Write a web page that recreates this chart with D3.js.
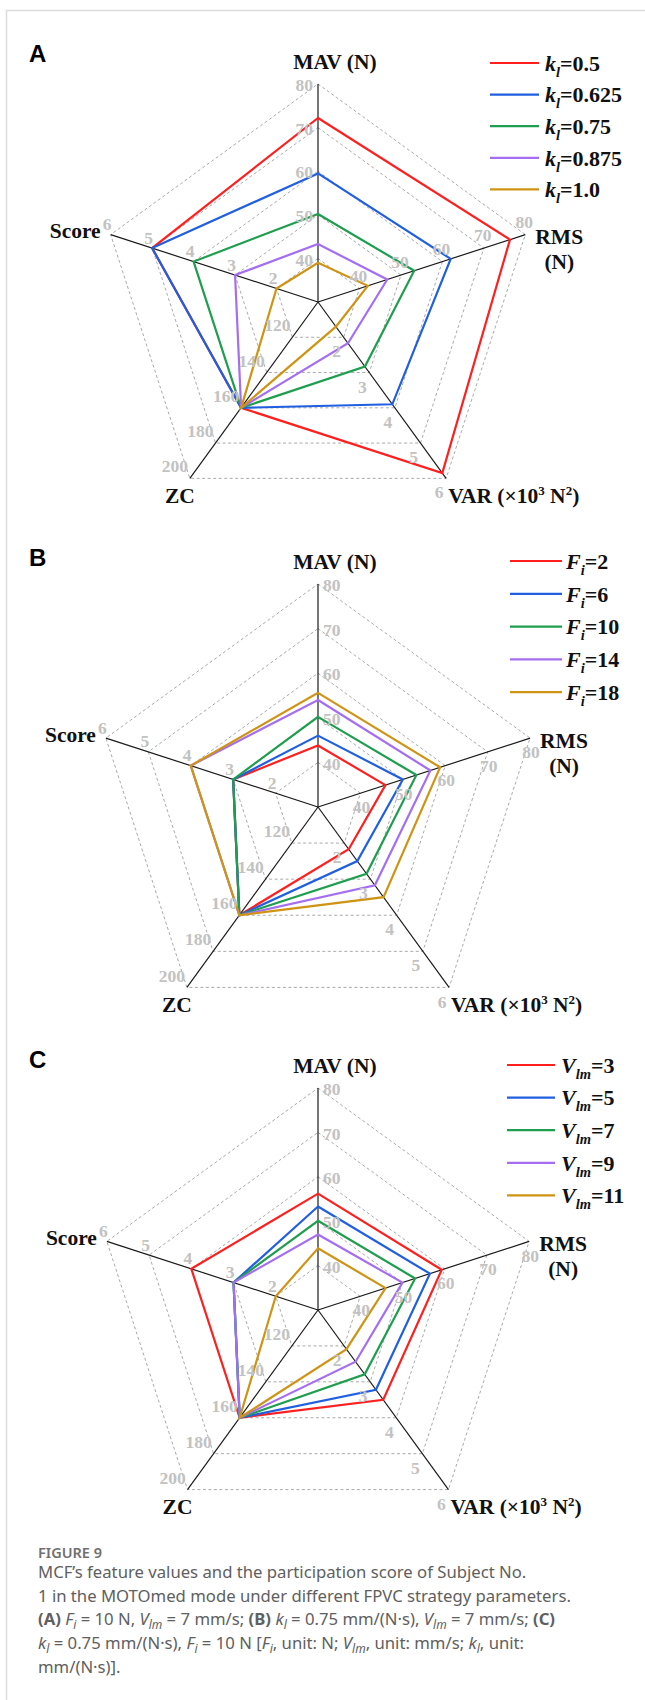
<!DOCTYPE html>
<meta charset="utf-8">
<style>body{margin:0;background:#fff}</style>
<svg width="645" height="1700"></svg>
<script src="https://d3js.org/d3.v7.min.js"></script>
<script>

// axis order clockwise from top
var axisDomains = [[30, 80], [30, 80], [1, 6], [100, 200], [1, 6]];
var mavTicks = [40, 50, 60, 70, 80];
var rmsTicks = [40, 50, 60, 70, 80];
var varTicks = [2, 3, 4, 5, 6];
var zcTicks = [120, 140, 160, 180, 200];
var scoreTicks = [2, 3, 4, 5, 6];
var axisTicks = [mavTicks, rmsTicks, varTicks, zcTicks, scoreTicks];

var colors = ["#ff1f1f", "#1f5fe0", "#1e9e4e", "#a56ef0", "#cf9414"];

// values: [MAV, RMS, VAR, ZC, Score]
var klLabels = ["0.5", "0.625", "0.75", "0.875", "1.0"];
var klValues = [
  [72.2, 76.3, 5.85, 160, 5],
  [59.5, 62.0, 3.9, 160, 5],
  [50.2, 53.2, 2.83, 160, 4],
  [43.3, 46.7, 2.17, 160, 3],
  [39.0, 42.0, 1.7, 160, 2]
];
var fiLabels = ["2", "6", "10", "14", "18"];
var fiValues = [
  [43.8, 45.9, 2.17, 160, 3],
  [46.0, 50.0, 2.5, 160, 3],
  [50.2, 53.2, 2.85, 160, 3],
  [54.0, 56.5, 3.17, 160, 4],
  [55.6, 58.8, 3.5, 160, 4]
];
var vlmLabels = ["3", "5", "7", "9", "11"];
var vlmValues = [
  [56.2, 59.3, 3.5, 160, 4],
  [53.3, 56.5, 3.22, 160, 3],
  [50.1, 53.0, 2.79, 160, 3],
  [47.0, 50.0, 2.44, 160, 3],
  [43.9, 46.0, 2.09, 160, 2]
];

var svg = d3.select("svg");
var serif = "'Liberation Serif', 'Times New Roman', serif";

svg.append("path")
    .attr("d", "M6.5,1700V10.5H645")
    .attr("fill", "none")
    .attr("stroke", "#dcdcdc")
    .attr("stroke-width", 1.5);

drawRadar({letter: "A", cx: 318, cy: 302, r: 218, mavSide: -1, rmsSide: -1,
  sym: "k", sub: "l", labels: klLabels, values: klValues,
  lx1: 490, lx2: 539, ltx: 545, ly0: 63, ldy: 31.6, letterY: 54});
drawRadar({letter: "B", cx: 318, cy: 807, r: 223, mavSide: 1, rmsSide: 1,
  sym: "F", sub: "i", labels: fiLabels, values: fiValues,
  lx1: 510, lx2: 562, ltx: 566, ly0: 561, ldy: 32.8, letterY: 558});
drawRadar({letter: "C", cx: 318, cy: 1310, r: 222, mavSide: 1, rmsSide: 1,
  sym: "V", sub: "lm", labels: vlmLabels, values: vlmValues,
  lx1: 507, lx2: 555, ltx: 561, ly0: 1065, ldy: 32.6, letterY: 1060});

function drawRadar(p) {
    var g = svg.append("g");
    var R = p.r;
    var scales = axisDomains.map(function(d) {
        return d3.scaleLinear().domain(d).range([0, R]);
    });
    function ang(i) { return (-90 + 72 * i) * Math.PI / 180; }
    function pt(i, r) { return [p.cx + r * Math.cos(ang(i)), p.cy + r * Math.sin(ang(i))]; }
    var line = d3.line().curve(d3.curveLinearClosed);

    // dashed rings
    for (var k = 0; k < 5; k++) {
        var ring = axisTicks.map(function(t, i) { return pt(i, scales[i](t[k])); });
        g.append("path")
            .attr("d", line(ring))
            .attr("fill", "none")
            .attr("stroke", "#aaaaaa")
            .attr("stroke-width", 1)
            .attr("stroke-dasharray", "3,2.5");
    }
    // spokes
    for (var i = 0; i < 5; i++) {
        var e = pt(i, R);
        g.append("line")
            .attr("x1", p.cx).attr("y1", p.cy)
            .attr("x2", e[0]).attr("y2", e[1])
            .attr("stroke", "#1a1a1a").attr("stroke-width", 1.2);
    }
    // series
    p.values.forEach(function(v, s) {
        var pts = v.map(function(d, i) { return pt(i, scales[i](d)); });
        g.append("path")
            .attr("d", line(pts))
            .attr("fill", "none")
            .attr("stroke", colors[s])
            .attr("stroke-width", 2.2)
            .attr("stroke-linejoin", "miter");
    });

    // tick labels
    var off = [
        [p.mavSide * 5, 1],
        [p.rmsSide < 0 ? -1 : 1, p.rmsSide < 0 ? -13 : 14],
        [-7, 14],
        [-15, -12],
        [-3.5, -10.5]
    ];
    axisTicks.forEach(function(t, i) {
        t.forEach(function(v) {
            var q = pt(i, scales[i](v));
            var anchor = "middle";
            if (i == 0) anchor = p.mavSide < 0 ? "end" : "start";
            g.append("text")
                .attr("x", q[0] + off[i][0])
                .attr("y", q[1] + off[i][1])
                .attr("dy", "0.35em")
                .attr("text-anchor", anchor)
                .attr("font-family", serif)
                .attr("font-weight", "bold")
                .attr("font-size", 17.5)
                .attr("fill", "#c2c2c2")
                .text(v);
        });
    });

    // axis names
    var lab = function(x, y, anchor) {
        return g.append("text")
            .attr("x", x).attr("y", y)
            .attr("dy", "0.35em")
            .attr("text-anchor", anchor)
            .attr("font-family", serif)
            .attr("font-weight", "bold")
            .attr("font-size", 21.5)
            .attr("fill", "#111");
    };
    var e0 = pt(0, R), e1 = pt(1, R), e2 = pt(2, R), e3 = pt(3, R), e4 = pt(4, R);
    lab(e0[0] + 17, e0[1] - 23, "middle").text("MAV (N)");
    lab(e1[0] + 10, e1[1] + 2, "start").text("RMS");
    lab(e1[0] + 34, e1[1] + 27, "middle").text("(N)");
    var vt = lab(e2[0] + 2, e2[1] + 17, "start");
    vt.append("tspan").text("VAR (×10");
    vt.append("tspan").attr("font-size", 13).attr("dy", -8).text("3");
    vt.append("tspan").attr("dy", 8).text(" N");
    vt.append("tspan").attr("font-size", 13).attr("dy", -8).text("2");
    vt.append("tspan").attr("dy", 8).text(")");
    lab(e3[0] - 10, e3[1] + 17, "middle").text("ZC");
    lab(e4[0] - 10, e4[1] - 4, "end").text("Score");

    // panel letter
    g.append("text")
        .attr("x", 29).attr("y", p.letterY)
        .attr("dy", "0.35em")
        .attr("font-family", "'Liberation Sans', Arial, sans-serif")
        .attr("font-weight", "bold")
        .attr("font-size", 24)
        .text(p.letter);

    // legend
    p.labels.forEach(function(l, s) {
        var y = p.ly0 + s * p.ldy;
        g.append("line")
            .attr("x1", p.lx1).attr("x2", p.lx2)
            .attr("y1", y).attr("y2", y)
            .attr("stroke", colors[s]).attr("stroke-width", 2.2);
        var t = g.append("text")
            .attr("x", p.ltx).attr("y", y)
            .attr("dy", "0.35em")
            .attr("font-family", serif)
            .attr("font-weight", "bold")
            .attr("font-size", 22)
            .attr("fill", "#111");
        t.append("tspan").attr("font-style", "italic").text(p.sym);
        t.append("tspan").attr("font-style", "italic").attr("font-size", 14.5).attr("dy", 6).text(p.sub);
        t.append("tspan").attr("dy", -6).text("=" + l);
    });
}

// caption
var capLines = [
    [["MCF’s feature values and the participation score of Subject No.", ""]],
    [["1 in the MOTOmed mode under different FPVC strategy parameters.", ""]],
    [["(A)", "b"], [" ", ""], ["F", "i"], ["i", "s"], [" = 10 N, ", ""], ["V", "i"], ["lm", "s"],
     [" = 7 mm/s; ", ""], ["(B)", "b"], [" ", ""], ["k", "i"], ["l", "s"], [" = 0.75 mm/(N·s), ", ""],
     ["V", "i"], ["lm", "s"], [" = 7 mm/s; ", ""], ["(C)", "b"]],
    [["k", "i"], ["l", "s"], [" = 0.75 mm/(N·s), ", ""], ["F", "i"], ["i", "s"], [" = 10 N [", ""],
     ["F", "i"], ["i", "s"], [", unit: N; ", ""], ["V", "i"], ["lm", "s"], [", unit: mm/s; ", ""],
     ["k", "i"], ["l", "s"], [", unit:", ""]],
    [["mm/(N·s)].", ""]]
];

svg.append("text")
    .attr("x", 38).attr("y", 1553)
    .attr("dy", "0.35em")
    .attr("font-family", "'Noto Sans', 'Open Sans', sans-serif")
    .attr("font-size", 14.5)
    .attr("font-weight", 600)
    .attr("fill", "#707070")
    .text("FIGURE 9");

capLines.forEach(function(segs, li) {
    var t = svg.append("text")
        .attr("x", 38).attr("y", 1572 + li * 23.7)
        .attr("dy", "0.35em")
        .attr("font-family", "'Noto Sans', 'Open Sans', sans-serif")
        .attr("font-size", 16.7)
        .attr("fill", "#606060");
    var shifted = false;
    segs.forEach(function(sg) {
        var ts = t.append("tspan").text(sg[0]);
        if (sg[1] == "s") {
            ts.attr("font-style", "italic").attr("font-size", 12).attr("dy", shifted ? 0 : 4);
            shifted = true;
        } else {
            if (shifted) { ts.attr("dy", -4); shifted = false; }
            if (sg[1] == "i") ts.attr("font-style", "italic");
            if (sg[1] == "b") ts.attr("font-weight", "bold");
        }
    });
});
</script>
